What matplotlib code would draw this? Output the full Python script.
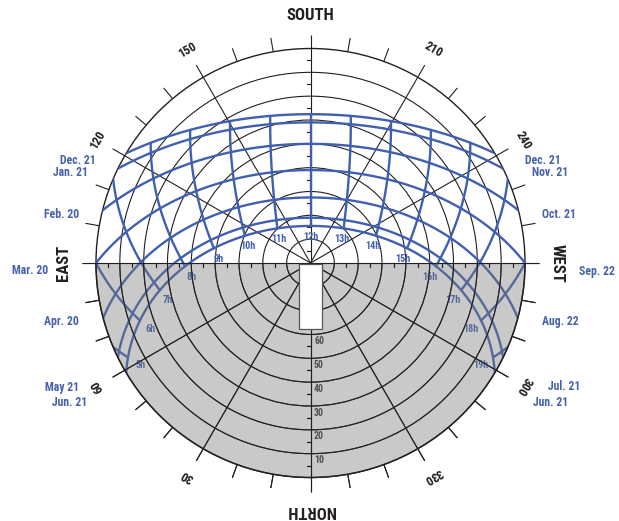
import numpy as np
import matplotlib
matplotlib.use('Agg')
import matplotlib.pyplot as plt
from matplotlib import font_manager
from matplotlib.patches import Circle, Rectangle, Wedge, Polygon

# ---------------- data ----------------
LATITUDE = 39.0
date_declinations = [-23.44, -20.0, -11.0, 0.0, 11.5, 20.0, 23.44]
left_date_labels = ['Dec. 21', 'Jan. 21', 'Feb. 20', 'Mar. 20', 'Apr. 20', 'May 21', 'Jun. 21']
right_date_labels = ['Dec. 21', 'Nov. 21', 'Oct. 21', 'Sep. 22', 'Aug. 22', 'Jul. 21', 'Jun. 21']
hours = [5, 6, 7, 8, 9, 10, 11, 12, 13, 14, 15, 16, 17, 18, 19]
hour_labels = ['5h', '6h', '7h', '8h', '9h', '10h', '11h', '12h', '13h', '14h',
               '15h', '16h', '17h', '18h', '19h']
azimuth_label_values = [30, 60, 120, 150, 210, 240, 300, 330]
cardinal_names = ['NORTH', 'EAST', 'SOUTH', 'WEST']
cardinal_azimuths = [0, 90, 180, 270]
altitude_circles = [10, 20, 30, 40, 50, 60, 70, 80]
altitude_label_values = [10, 20, 30, 40, 50, 60]

# ---------------- fonts ----------------
available = {f.name for f in font_manager.fontManager.ttflist}
FONT = 'DejaVu Sans'
for cand in ['Liberation Sans Narrow', 'DejaVu Sans Condensed', 'Roboto Condensed',
             'Open Sans Condensed', 'Liberation Sans']:
    if cand in available:
        FONT = cand
        break
plt.rcParams['font.family'] = [FONT, 'DejaVu Sans']

BLUE = '#3f5fb0'
BLACK = '#231f20'
R = 214.5

fig = plt.figure(figsize=(6.19, 5.21), dpi=100)
ax = fig.add_axes([0, 0, 1, 1])
ax.set_xlim(-310.5, 308.5)
ax.set_ylim(-258, 263)
ax.set_aspect('equal')
ax.axis('off')


def proj(alt, az):
    r = R * (90.0 - np.asarray(alt)) / 90.0
    th = np.radians(270.0 - np.asarray(az))
    return r * np.cos(th), r * np.sin(th)


def sun(dec, H):
    phi = np.radians(LATITUDE)
    d = np.radians(dec)
    h = np.radians(H)
    z = np.sin(phi) * np.sin(d) + np.cos(phi) * np.cos(d) * np.cos(h)
    xe = -np.cos(d) * np.sin(h)
    yn = np.cos(phi) * np.sin(d) - np.sin(phi) * np.cos(d) * np.cos(h)
    alt = np.degrees(np.arcsin(np.clip(z, -1, 1)))
    az = np.degrees(np.arctan2(xe, yn))
    return alt, az


clip_circle = Circle((0, 0), R, transform=ax.transData)

# ---------------- black grid ----------------
def draw_grid(z, clip=None):
    arts = []
    arts.append(ax.add_patch(Circle((0, 0), R, fill=False, ec=BLACK, lw=1.0, zorder=z)))
    for a in altitude_circles:
        rr = R * (90 - a) / 90
        arts.append(ax.add_patch(Circle((0, 0), rr, fill=False, ec=BLACK, lw=0.8, zorder=z)))
    for az in range(0, 360, 10):
        th = np.radians(270 - az)
        r0 = 0 if az % 30 == 0 else R
        arts += ax.plot([r0 * np.cos(th), (R + 14) * np.cos(th)],
                        [r0 * np.sin(th), (R + 14) * np.sin(th)],
                        color=BLACK, lw=0.8, zorder=z, solid_capstyle='butt')
    # small ticks on the axes at 5 deg altitude steps
    for a in range(5, 90, 10):
        rr = R * (90 - a) / 90
        for s in (-1, 1):
            arts += ax.plot([s * rr, s * rr], [0, -4], color=BLACK, lw=0.8, zorder=z)
            arts += ax.plot([-4, 0], [s * rr, s * rr], color=BLACK, lw=0.8, zorder=z)
    if clip is not None:
        for a in arts:
            a.set_clip_path(clip)


draw_grid(1)
lower = Polygon([[-400, 0], [400, 0], [400, -400], [-400, -400]], closed=True,
                transform=ax.transData)
draw_grid(4, clip=lower)

# ---------------- sun paths ----------------
Hs = np.linspace(-180, 180, 1441)
for dec in date_declinations:
    alt, az = sun(dec, Hs)
    x, y = proj(alt, az)
    ln, = ax.plot(x, y, color=BLUE, lw=1.7, zorder=2, solid_capstyle='round')
    ln.set_clip_path(clip_circle)

decs = np.linspace(min(date_declinations), max(date_declinations), 400)
for h, lab in zip(hours, hour_labels):
    alt, az = sun(decs, 15.0 * (h - 12))
    x, y = proj(alt, az)
    ln, = ax.plot(x, y, color=BLUE, lw=1.7, zorder=2, solid_capstyle='round')
    ln.set_clip_path(clip_circle)
    la, lz = sun(28.0, 15.0 * (h - 12))
    lx, ly = proj(la, lz)
    ax.text(lx, ly, lab, color=BLUE, fontsize=7.3, fontweight='bold',
            ha='center', va='center', zorder=2)

# ---------------- gray northern half ----------------
ax.add_patch(Wedge((0, 0), R, 180, 360, facecolor=(0.47, 0.478, 0.47), alpha=0.4,
                   edgecolor='none', zorder=3))

# white box at centre
ax.add_patch(Rectangle((-11.5, -66), 23, 65, facecolor='white', edgecolor='#555555',
                       lw=0.9, zorder=5))

# ---------------- labels ----------------
for val in altitude_label_values:
    rr = R * (90 - val) / 90
    ax.text(3.5, -rr - 6.5, str(val), color='#4d4d4d', fontsize=7, fontweight='bold',
            ha='left', va='center', zorder=6)

for az in azimuth_label_values:
    th = np.radians(270 - az)
    ax.text(246 * np.cos(th), 246 * np.sin(th), str(az), rotation=180 - az,
            rotation_mode='anchor', ha='center', va='center', fontsize=9,
            fontweight='bold', color=BLACK, zorder=6)

for name, az in zip(cardinal_names, cardinal_azimuths):
    th = np.radians(270 - az)
    ax.text(247 * np.cos(th), 247 * np.sin(th), name, rotation=180 - az,
            rotation_mode='anchor', ha='center', va='center', fontsize=12,
            fontweight='bold', color=BLACK, zorder=6)

left_anchor = [(96, 160), (88, 173), (79, 215), (48, 271), (79, 322), (79, 387), (87, 403)]
right_anchor = [(525, 160), (532, 173), (542, 215), (579, 271), (542, 322), (548, 387), (533, 403)]
for lab, (px, py) in zip(left_date_labels, left_anchor):
    ax.text(px - 310.5, 263 - py, lab, color='#4662ad', fontsize=8.5, fontweight='bold',
            ha='right', va='center', zorder=6)
for lab, (px, py) in zip(right_date_labels, right_anchor):
    ax.text(px - 310.5, 263 - py, lab, color='#4662ad', fontsize=8.5, fontweight='bold',
            ha='left', va='center', zorder=6)

fig.savefig('out.png', dpi=100)
